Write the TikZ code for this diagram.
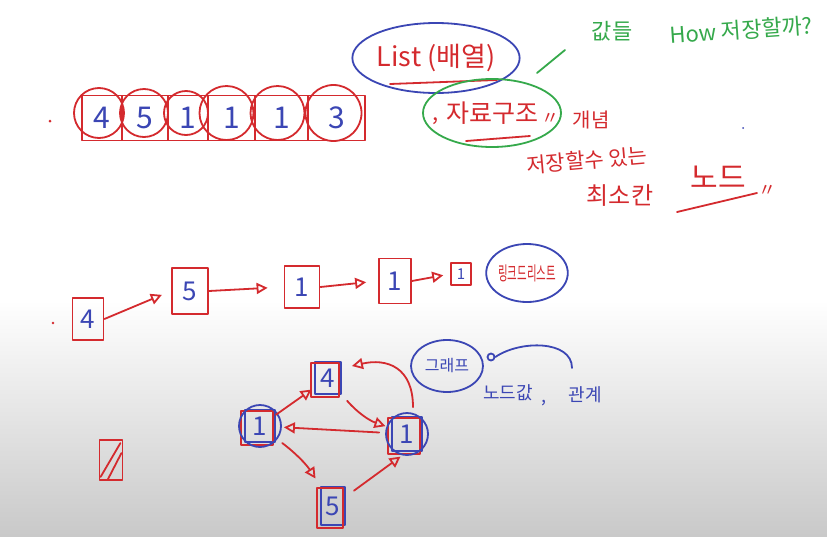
\documentclass[tikz,border=0pt]{standalone}
\usepackage{fontspec}
\setmainfont{Noto Sans CJK KR}
\usetikzlibrary{arrows.meta,shapes.geometric,positioning}

\definecolor{penred}{HTML}{D42A2E}
\definecolor{penblue}{HTML}{3B46B4}
\definecolor{pengreen}{HTML}{35A94B}
\definecolor{boardgray}{HTML}{C9C9C9}
\newcommand{\penfont}[1]{\fontsize{#1}{#1}\selectfont}

\begin{document}
\begin{tikzpicture}[
        x=1pt, y=-1pt,
        pen/.style={line width=1.8pt, line cap=round, line join=round},
        redpen/.style={pen, draw=penred},
        bluepen/.style={pen, draw=penblue},
        greenpen/.style={pen, draw=pengreen},
        cell/.style={rectangle, redpen, inner sep=0pt, minimum height=45pt, text=penblue, font=\penfont{30}},
        lbox/.style={rectangle, redpen, inner sep=0pt, text=penblue, font=\penfont{26}},
        gnode/.style={rectangle, bluepen, inner sep=0pt, text=penblue, font=\penfont{26}},
        bubble/.style={ellipse, inner sep=0pt},
        note/.style={inner sep=0pt},
        link/.style={redpen, -{Triangle[open, length=11pt, width=11pt]}}
    ]
        \useasboundingbox (0,0) rectangle (827,536);
        % Board
        \fill[white] (0,0) rectangle (827,536);
        \shade[top color=white, bottom color=boardgray] (0,300) rectangle (827,536);

        % Array row
        \foreach \v/\cx/\w [count=\i] in {4/102/40, 5/145/46, 1/188/40, 1/231.5/47, 1/281.5/53, 3/336.5/57}
            \node[cell, minimum width=\w pt] (a\i) at (\cx,118) {\v};
        \foreach \i/\dx/\r in {1/-3/25, 2/-1/24, 3/-2/22, 4/-5/27, 5/-4/27, 6/-3/28}
            \draw[redpen] ([shift={(\dx,-5)}]a\i.center) circle[radius=\r pt];
        \fill[penred] (50,121) circle[radius=1.5pt];

        % List and data structure notes
        \node[bubble, bluepen, minimum width=156pt, minimum height=70pt, text=penred, font=\penfont{27}] (listname) at (436,58) {List (배열)};
        \draw[redpen] (390,84) -- (497,80);
        \node[bubble, greenpen, minimum width=138pt, minimum height=68pt, text=penred, font=\penfont{25}] (jaryo) at (492,113) {자료구조};
        \node[note, text=penred, font=\penfont{22}] (qopen) at (436,121) {,};
        \node[note, text=penred, font=\penfont{18}] (qclose) at (550,119) {〃};
        \draw[redpen] (466,141) -- (530,136);
        \draw[greenpen] (537,73) -- (565,50);

        \node[note, text=pengreen, font=\penfont{22}] (values) at (612,31) {값들};
        \node[note, text=pengreen, font=\penfont{22}, rotate=4] (howsave) at (741,30) {How 저장할까?};

        \node[note, text=penred, font=\penfont{20}] (concept) at (591,120) {개념};
        \node[note, text=penred, font=\penfont{21}, rotate=5] (storable) at (587,160) {저장할수 있는};
        \node[note, text=penred, font=\penfont{24}] (smallest) at (620,196) {최소칸};
        \node[note, text=penred, font=\penfont{30}] (nodeword) at (718,177) {노드};
        \draw[redpen] (677,212) -- (757,193);
        \node[note, text=penred, font=\penfont{18}] (ditto) at (767,191) {〃};
        \fill[penblue] (743,128) circle[radius=1pt];

        % Linked list
        \fill[penred] (53,323) circle[radius=1.3pt];
        \node[lbox, minimum width=31pt, minimum height=42pt] (l1) at (88,319) {4};
        \node[lbox, minimum width=36pt, minimum height=46pt] (l2) at (190,291) {5};
        \node[lbox, minimum width=35pt, minimum height=42pt] (l3) at (302,287) {1};
        \node[lbox, minimum width=32pt, minimum height=45pt] (l4) at (395,281) {1};
        \node[lbox, minimum width=20pt, minimum height=22pt, font=\penfont{15}] (l5) at (461,274) {1};
        \draw[link, shorten >=10pt] (l1.east) -- (l2.west);
        \draw[link, shorten >=16pt] (l2.east) -- (l3.west);
        \draw[link, shorten >=12pt] (l3.east) -- (l4.west);
        \draw[link, shorten >=7pt] (l4.east) -- (l5.west);
        \node[bubble, bluepen, minimum width=68pt, minimum height=58pt, text=penred, font=\penfont{19}] (linkedlist) at (527,273) {\scalebox{0.55}[1]{링크드리스트}};

        % Graph
        \node[gnode, minimum width=26pt, minimum height=32pt] (g4) at (328,378) {4};
        \node[gnode, minimum width=30pt, minimum height=32pt] (g1) at (260,426) {1};
        \node[gnode, minimum width=30pt, minimum height=34pt] (gr) at (407,434) {1};
        \node[gnode, minimum width=24pt, minimum height=38pt] (g5) at (333,506) {5};
        \foreach \n in {g4,g1,gr,g5}
            \draw[redpen] ([shift={(-3,2)}]\n.south west) rectangle ([shift={(-3,2)}]\n.north east);
        \draw[bluepen] (g1) circle[radius=21pt];
        \draw[bluepen] (gr) circle[radius=21pt];

        \draw[link, shorten >=3pt] (g1) -- (g4);
        \draw[link, shorten <=8pt, shorten >=6pt] (g4) to[bend right=15] (gr);
        \draw[link] ([shift={(6,-9)}]gr.north) .. controls +(0,-40) and +(35,-8) .. ([shift={(10,-12)}]g4.east);
        \draw[link, shorten <=12pt, shorten >=8pt] (gr) -- (g1);
        \draw[link, shorten <=8pt, shorten >=9pt] (g1) to[bend left=10] (g5);
        \draw[link, shorten <=10pt, shorten >=8pt] (g5) -- (gr.south);

        % Empty node
        \node[lbox, minimum width=23pt, minimum height=40pt] (blank) at (111,460) {};
        \draw[redpen] ([shift={(2,-4)}]blank.south west) -- ([shift={(-3,4)}]blank.north east);
        \draw[redpen] ([shift={(9,-1)}]blank.south west) -- ([shift={(-2,14)}]blank.north east);

        % Graph note
        \node[bubble, bluepen, minimum width=72pt, minimum height=52pt, text=penblue, font=\penfont{16}] (graphword) at (447,366) {그래프};
        \node[circle, bluepen, minimum size=7pt, inner sep=0pt] (knot) at (491,357) {};
        \coordinate (relend) at (572,368);
        \draw[bluepen] (knot.east) .. controls (520,340) and (572,340) .. (relend);
        \node[note, text=penblue, font=\penfont{18}] (nodeval) at (508,393) {노드값};
        \node[note, text=penblue, font=\penfont{18}] (valcomma) at (544,403) {,};
        \node[note, text=penblue, font=\penfont{18}] (relation) at (585,395) {관계};
    \end{tikzpicture}
\end{document}
